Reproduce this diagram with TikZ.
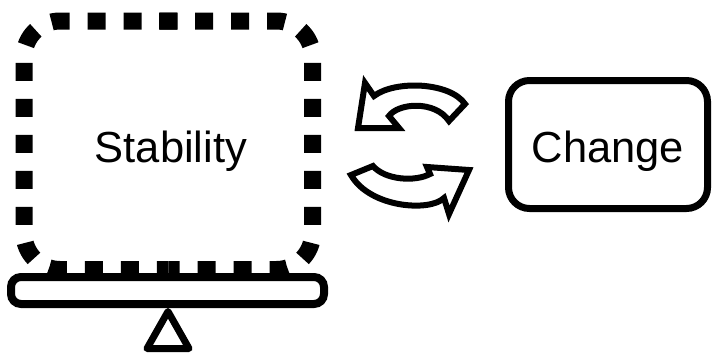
\documentclass[tikz,border=0pt]{standalone}
\usepackage{fontspec}
\setmainfont{Liberation Sans}
\begin{document}
\begin{tikzpicture}[x=1pt,y=-1pt,
  dashbox/.style={line width=17pt, dash pattern=on 18pt off 18pt, rounded corners=36pt},
  lbl/.style={font=\fontsize{43.5}{50}\selectfont, inner sep=0pt},
  cyclearrow/.style={draw, line width=6pt, fill=white, line join=miter},
  changebox/.style={draw, line width=7pt, rounded corners=21pt, minimum width=199pt, minimum height=128pt, inner sep=0pt, text height=35pt, text depth=0pt, font=\fontsize{43.5}{50}\selectfont},
  barshape/.style={draw, line width=8pt, fill=white, rounded corners=10pt},
  pivot/.style={draw, line width=7pt, fill=white, line join=round}
]
\useasboundingbox (0,0) rectangle (712,354);
% dashed stability box (two halves for symmetric dashes)
\draw[dashbox] (159,21) -- (312.5,21) -- (312.5,269.5) -- (168.25,269.5);
\draw[dashbox] (177.5,21) -- (24,21) -- (24,269.5) -- (168.25,269.5);
\node[lbl, anchor=base] (stab) at (171,162) {Stability};
% seesaw
\draw[pivot] (168,311.5) -- (189,348.5) -- (147,348.5) -- cycle;
\draw[barshape] (11,277) rectangle (324,304);
% change box
\node[changebox] (change) at (608,144.5) {Change};
% upper cycle arrow (pointing left)
\draw[cyclearrow] (358,128) -- (399,128) -- (389,116)
  .. controls (398,103) and (435,100) .. (449,121)
  -- (465,104)
  .. controls (450,82) and (395,80) .. (374,96)
  -- (365,83) -- cycle;
% lower cycle arrow (pointing right)
\draw[cyclearrow] (469,170) -- (449,214) -- (444,198)
  .. controls (430,212) and (370,208) .. (351,175)
  -- (373,166)
  .. controls (385,180) and (415,182) .. (430,174)
  -- (427,167) -- cycle;
\end{tikzpicture}
\end{document}
